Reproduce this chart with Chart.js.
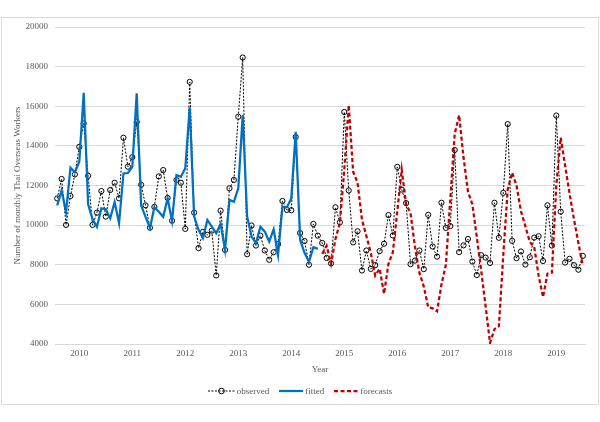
<!DOCTYPE html>
<html>
<head>
<meta charset="utf-8">
<script src="https://cdn.jsdelivr.net/npm/chart.js@4.4.0/dist/chart.umd.min.js"></script>
<style>
  html, body { margin: 0; padding: 0; background: #fff; }
  #wrap { position: relative; width: 600px; height: 422px; }
  #frame { position: absolute; left: 1px; top: 17px; width: 596px; height: 386px; border: 1px solid #d9d9d9; pointer-events: none; }
  #legend { position: absolute; left: 0; top: 385px; width: 600px; display: flex; justify-content: center; gap: 10px;
            font: 9px "Liberation Serif", "Times New Roman", serif; color: #595959; }
  #legend span { display: inline-flex; align-items: center; gap: 2px; }
</style>
</head>
<body>
<div id="wrap">
  <canvas id="chart" width="600" height="422"></canvas>
  <div id="frame"></div>
  <div id="legend">
    <span><svg width="27" height="12"><line x1="0" y1="6" x2="27" y2="6" stroke="#000" stroke-width="1" stroke-dasharray="2,1.5"/><circle cx="13.5" cy="6" r="2.8" fill="none" stroke="#000" stroke-width="1"/></svg>observed</span>
    <span><svg width="24" height="12"><line x1="0" y1="6" x2="24" y2="6" stroke="#0070c0" stroke-width="2.25"/></svg>fitted</span>
    <span><svg width="24" height="12"><line x1="0" y1="6" x2="24" y2="6" stroke="#c00000" stroke-width="2.25" stroke-dasharray="4,2.5"/></svg>forecasts</span>
  </div>
</div>
<script>
// monthly series, Jan 2010 .. Dec 2019
const years = [2010, 2011, 2012, 2013, 2014, 2015, 2016, 2017, 2018, 2019];

const observed = [
  11350, 12330, 10010, 11470, 12560, 13950, 15130, 12490, 10010, 10630, 11720, 10430,
  11770, 12140, 11350, 14410, 12950, 13430, 15210, 12040, 11000, 9870, 10920, 12460,
  12780, 11370, 10220, 12280, 12140, 9810, 17230, 10630, 8840, 9660, 9510, 9720,
  7460, 10730, 8750, 11860, 12280, 15470, 18460, 8530, 9980, 8970, 9470, 8720,
  8250, 8630, 9040, 11220, 10770, 10750, 14450, 9600, 9200, 8000, 10060, 9470,
  9100, 8340, 8070, 10900, 10140, 15710, 11750, 9130, 9690, 7710, 8720, 7790,
  7980, 8690, 9060, 10510, 9480, 12940, 11790, 11110, 8030, 8210, 8720, 7780,
  10520, 8920, 8410, 11130, 9860, 9950, 13790, 8640, 8980, 9300, 8160, 7480,
  8480, 8360, 8090, 11130, 9360, 11630, 15100, 9210, 8330, 8670, 8010, 8380,
  9370, 9440, 8190, 11000, 8970, 15530, 10680, 8110, 8300, 7980, 7750, 8450
];

// in-sample fit, 2010-2014
const fitted = [
  11000, 11750, 10660, 12900, 12670, 13200, 16680, 11050, 10300, 9920, 10850, 10800,
  10340, 11160, 10100, 12610, 12630, 12940, 16650, 11000, 10420, 9860, 10900, 10680,
  10420, 11350, 10200, 12530, 12440, 12870, 15940, 10430, 9760, 9340, 10260, 9920,
  9590, 10060, 8750, 11270, 11180, 11860, 15550, 10430, 9420, 9090, 9920, 9670,
  9170, 9790, 8500, 10930, 10900, 11350, 14710, 9250, 8600, 8150, 8880, 8800
];

// out-of-sample forecasts, 2015-2019
const forecasts = [
  8550, 8960, 8050, 9300, 10100, 12800, 16050, 12700, 12150, 10280, 9450, 8600,
  7450, 7800, 6530, 8050, 8630, 10700, 12800, 11050, 10600, 8900, 7600, 6900,
  5850, 5800, 5650, 7000, 8000, 11300, 14600, 15550, 13400, 11700, 11050, 9400,
  7700, 5900, 4050, 4750, 4900, 8500, 11800, 12650, 12000, 10700, 9950, 9150,
  8900, 7450, 6370, 7550, 7600, 12000, 14420, 13000, 11600, 10300, 9100, 7950
];

const labels = [];
years.forEach(y => {
  for (let m = 1; m <= 12; m++) labels.push(y + '-' + String(m).padStart(2, '0'));
});

const blank = n => new Array(n).fill(null);
const fittedData = fitted.concat(blank(labels.length - fitted.length));
const forecastData = blank(labels.length - forecasts.length).concat(forecasts);

const textColor = '#595959';
const serif = { family: '"Liberation Serif", "Times New Roman", serif', size: 9 };

new Chart(document.getElementById('chart'), {
  type: 'line',
  data: {
    labels: labels,
    datasets: [
      {
        label: 'observed',
        data: observed,
        borderColor: '#000',
        borderWidth: 1,
        borderDash: [2, 1.5],
        pointRadius: 2.6,
        pointBorderWidth: 1,
        pointBorderColor: '#000',
        pointBackgroundColor: 'rgba(0,0,0,0)',
        tension: 0,
        order: 3
      },
      {
        label: 'fitted',
        data: fittedData,
        borderColor: '#0070c0',
        borderWidth: 2.25,
        pointRadius: 0,
        tension: 0,
        order: 2
      },
      {
        label: 'forecasts',
        data: forecastData,
        borderColor: '#c00000',
        borderWidth: 2.25,
        borderDash: [4, 2.5],
        pointRadius: 0,
        tension: 0,
        order: 1
      }
    ]
  },
  options: {
    responsive: false,
    animation: false,
    layout: { padding: { left: 0, right: 15, top: 27, bottom: 47 } },
    plugins: {
      legend: { display: false },
      tooltip: { enabled: false }
    },
    scales: {
      x: {
        offset: true,
        grid: { display: false, drawTicks: false },
        border: { color: '#d9d9d9' },
        ticks: {
          autoSkip: false,
          maxRotation: 0,
          padding: 4,
          color: textColor,
          font: serif,
          callback: (v, i) => (i % 12 === 5 ? String(years[Math.floor(i / 12)]) : '')
        },
        title: { display: true, text: 'Year', color: textColor, font: serif, padding: { top: 2, bottom: 0 } },
        afterFit: s => { s.height = 31; }
      },
      y: {
        min: 4000,
        max: 20000,
        grid: { color: '#d9d9d9', drawTicks: false },
        border: { display: false },
        ticks: { stepSize: 2000, padding: 7, color: textColor, font: serif, callback: v => String(v) },
        title: {
          display: true,
          text: 'Number of monthly Thai Overseas Workers',
          color: textColor,
          font: serif,
          padding: { top: 12, bottom: 0 }
        },
        afterFit: s => { s.width = 55; }
      }
    }
  }
});
</script>
</body>
</html>
